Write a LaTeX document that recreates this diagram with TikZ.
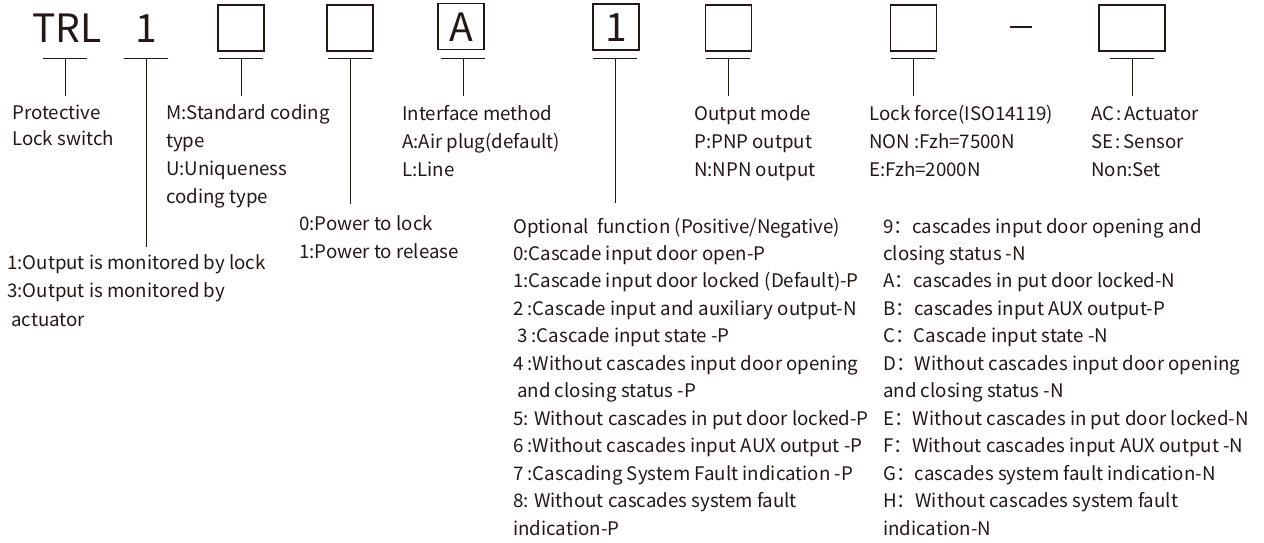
\documentclass[tikz,border=0pt]{standalone}
\usepackage{fontspec}
\setmainfont{Noto Sans CJK SC}
\definecolor{ink}{RGB}{35,24,21}
\begin{document}
\begin{tikzpicture}[x=1pt,y=-1pt,
  txt/.style={inner sep=0pt,anchor=base west,align=left,text=ink,font=\fontsize{18.7}{27.45}\selectfont},
  big/.style={inner sep=0pt,text=ink,font=\fontsize{39}{39}\selectfont},
  codebox/.style={draw=ink,line width=1.3pt,minimum width=46pt,minimum height=46pt,inner sep=0pt,text=ink,font=\fontsize{39}{39}\selectfont},
  bar/.style={draw=ink,line width=1pt},
  lead/.style={draw=ink,line width=1pt}]
\useasboundingbox (0,0) rectangle (1264,542);
% code elements
\node[big,anchor=base] (c0) at (67,42) {TRL};
\node[big,anchor=base] (c1) at (146,42) {1};
\node[codebox] (b2) at (241,28) {};
\node[codebox] (b3) at (350,28) {};
\node[codebox,anchor=base] (b4) at (461,41) {A};
\node[codebox,anchor=base] (b5) at (616,41) {1};
\node[codebox] (b6) at (728.5,28) {};
\node[codebox] (b7) at (913.5,28) {};
\node[inner sep=0pt,minimum width=22pt,minimum height=1.3pt,fill=ink] (dash) at (1021,27) {};
\node[codebox,minimum width=66pt] (b8) at (1132,28) {};
% descriptions (anchored at baseline of last line)
\node[txt,font=\fontsize{18.7}{26}\selectfont] (d0) at (12,145) {Protective\\Lock switch};
\node[txt,font=\fontsize{18.7}{28.5}\selectfont] (d1) at (7,326) {1:Output is monitored by lock\\3:Output is monitored by\\\hspace*{4pt}actuator};
\node[txt,font=\fontsize{18.7}{27.7}\selectfont] (d2) at (166,203) {M:Standard coding\\type\\U:Uniqueness\\coding type};
\node[txt,font=\fontsize{18.7}{28}\selectfont] (d3) at (299,258) {0:Power to lock\\1:Power to release};
\node[txt,font=\fontsize{18.7}{28}\selectfont] (d4) at (402,176) {Interface method\\A:Air plug(default)\\L:Line};
\node[txt,font=\fontsize{18.7}{28}\selectfont] (d6) at (694,176) {Output mode\\P:PNP output\\N:NPN output};
\node[txt,font=\fontsize{18.7}{28}\selectfont] (d7) at (869,176) {Lock force(ISO14119)\\NON :Fzh=7500N\\E:Fzh=2000N};
\node[txt,font=\fontsize{18.7}{28}\selectfont] (d8) at (1091,176) {AC\kern2.5pt:\kern2.5pt Actuator\\SE\kern2.5pt:\kern2.5pt Sensor\\Non:Set};
\node[txt] (d5) at (513,535) {Optional~ function (Positive/Negative)\\
0:Cascade input door open-P\\
1:Cascade input door locked (Default)-P\\
2 :Cascade input and auxiliary output-N\\
\hspace*{4pt}3 :Cascade input state -P\\
4 :Without cascades input door opening\\
\hspace*{4pt}and closing status -P\\
5: Without cascades in put door locked-P\\
6 :Without cascades input AUX output -P\\
7 :Cascading System Fault indication -P\\
8: Without cascades system fault\\
indication-P};
\node[txt] (d9) at (883,535) {9：cascades input door opening and\\
closing status -N\\
A：cascades in put door locked-N\\
B：cascades input AUX output-P\\
C：Cascade input state -N\\
D：Without cascades input door opening\\
and closing status -N\\
E：Without cascades in put door locked-N\\
F：Without cascades input AUX output -N\\
G：cascades system fault indication-N\\
H：Without cascades system fault\\
indication-N};
% bars and leads
\foreach \n/\x/\e in {c0/65/96, c1/146/247, b2/241/96, b3/350/204, b4/463/96, b5/615/203, b6/728/96, b7/913/96, b8/1132/96}{
  \draw[bar] (\x-22,58) -- (\x+22,58);
  \coordinate (e-\n) at (\x,\e);
  \draw[lead] (\x,58) -- (e-\n);
}
\end{tikzpicture}
\end{document}
